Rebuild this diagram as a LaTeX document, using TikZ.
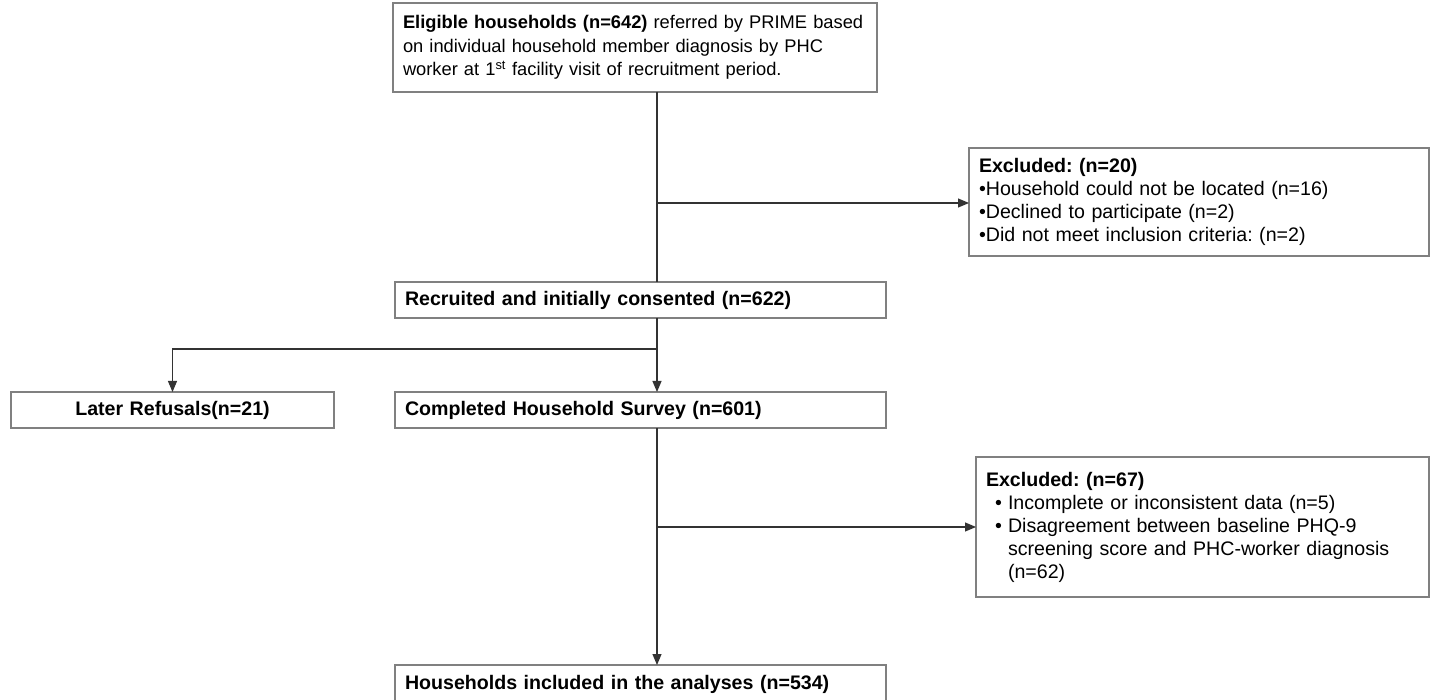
\documentclass[tikz,border=0pt]{standalone}
\usepackage{fontspec}
\setmainfont{Liberation Sans}
\usetikzlibrary{arrows.meta}
\frenchspacing
\newcommand{\bitem}{\makebox[22pt][l]{\hspace{9pt}\textbullet}}

\begin{document}
\begin{tikzpicture}[x=1pt,y=-1pt,
  box/.style={draw=gray, line width=1.3pt, inner xsep=10pt, inner ysep=0pt, outer sep=0pt,
    align=left, anchor=north west, font=\fontsize{19.6}{23}\selectfont},
  flow/.style={draw=black!80, line width=1.1pt, -{Triangle[length=11pt,width=9pt]}}]
\useasboundingbox (0,0) rectangle (1432,700);

% Main column
\node[box, text width=464pt, minimum height=89pt, font=\fontsize{18.3}{23.5}\selectfont] (elig) at (393,3)
  {\textbf{Eligible households (n=642)} referred by PRIME based\\
   on individual household member diagnosis by PHC\\
   worker at 1\textsuperscript{st} facility visit of recruitment period.};
\node[box, text width=471pt, minimum height=36pt] (recr) at (395,282)
  {\textbf{Recruited and initially consented (n=622)}};
\node[box, text width=471pt, minimum height=36pt] (compl) at (395,392)
  {\textbf{Completed Household Survey (n=601)}};
\node[box, text width=471pt, minimum height=38pt] (final) at (395,665)
  {\textbf{Households included in the analyses (n=534)}};

% Side boxes
\node[box, text width=440pt, minimum height=108pt] (excl1) at (969,148)
  {\textbf{Excluded: (n=20)}\\
   \textbullet Household could not be located (n=16)\\
   \textbullet Declined to participate (n=2)\\
   \textbullet Did not meet inclusion criteria: (n=2)};
\node[box, text width=303pt, minimum height=36pt, align=center] (later) at (11,392)
  {\textbf{Later Refusals(n=21)}};
\node[box, text width=433pt, minimum height=140pt] (excl2) at (976,457)
  {\textbf{Excluded: (n=67)}\\
   \bitem Incomplete or inconsistent data (n=5)\\
   \bitem Disagreement between baseline PHQ-9\\
   \hspace*{22pt}screening score and PHC-worker diagnosis\\
   \hspace*{22pt}(n=62)};

% Spine and branch points
\coordinate (spine) at (657,0);
\coordinate (j1) at (657,203);
\coordinate (j2) at (657,349);
\coordinate (j3) at (657,527);

% Connectors
\draw[draw=black!80, line width=1.1pt] (elig.south -| spine) -- (recr.north -| spine);
\draw[flow] (j1) -- (j1 -| excl1.west);
\draw[flow] (recr.south -| spine) -- (compl.north -| spine);
\draw[flow] (j2) -| (later.north);
\draw[flow] (j3) -- (j3 -| excl2.west);
\draw[flow] (compl.south -| spine) -- (final.north -| spine);
\end{tikzpicture}
\end{document}
